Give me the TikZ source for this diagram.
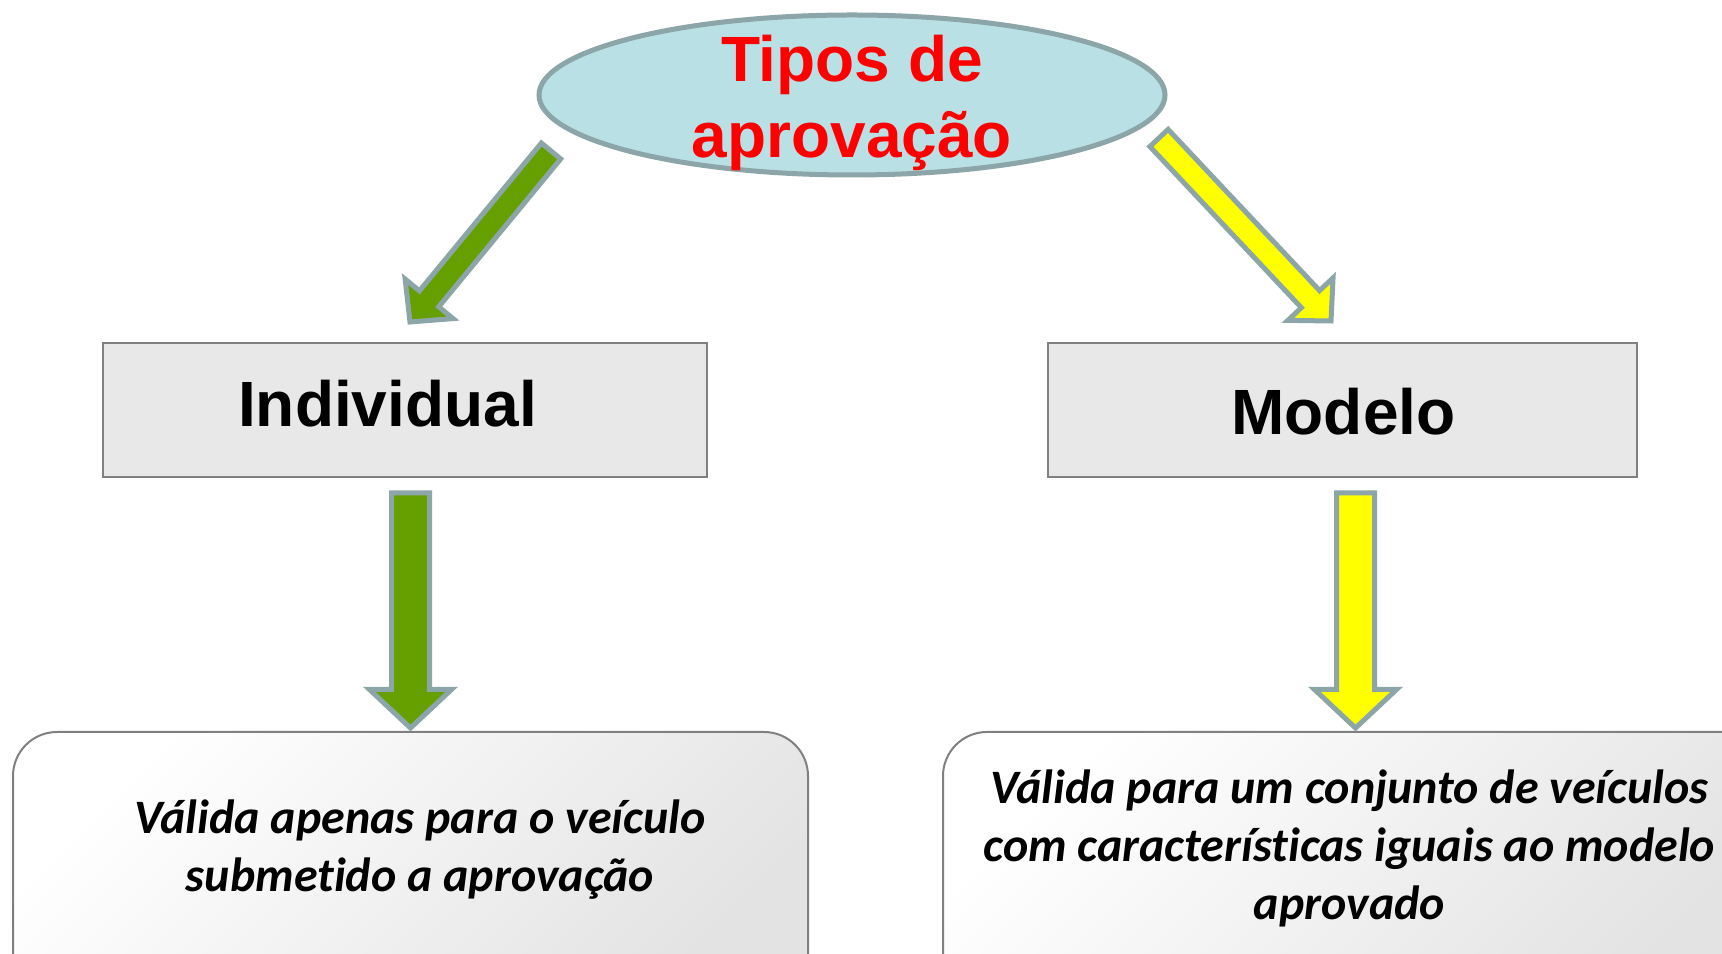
\documentclass[tikz,border=0pt]{standalone}
\usepackage{fontspec}
\setmainfont{Liberation Sans}
\newfontfamily\calibfont[Ligatures=NoCommon]{Carlito}
\usetikzlibrary{positioning,shapes,calc,arrows}

\definecolor{elipsecol}{RGB}{185,224,228}
\definecolor{bordacol}{RGB}{140,165,168}
\definecolor{verdecol}{RGB}{102,159,0}
\definecolor{amarelocol}{RGB}{255,255,0}
\definecolor{caixacol}{RGB}{232,232,232}
\definecolor{linhacol}{RGB}{128,128,128}
\definecolor{titulocol}{RGB}{255,0,0}

% block arrow: base, tip, half shaft, half head, head length, fill
\newcommand{\grossaseta}[6]{%
  \coordinate (gargalo) at ($(#2)!#5!(#1)$);
  \filldraw[seta, fill=#6] ($(#1)!#3!90:(#2)$) -- ($(gargalo)!#3!90:(#2)$)
    -- ($(gargalo)!#4!90:(#2)$) -- (#2) -- ($(gargalo)!#4!-90:(#2)$)
    -- ($(gargalo)!#3!-90:(#2)$) -- ($(#1)!#3!-90:(#2)$) -- cycle;}

\begin{document}
\begin{tikzpicture}[line join=miter,
    tipo/.style={ellipse, draw=bordacol, fill=elipsecol, line width=5bp,
      inner sep=0pt, minimum width=626bp, minimum height=160bp},
    titulo/.style={align=center, text=titulocol, anchor=base,
      font=\fontsize{64bp}{76bp}\selectfont\bfseries},
    caixa/.style={rectangle, draw=linhacol, fill=caixacol, line width=2bp,
      inner sep=0pt, minimum height=134bp},
    rotulo/.style={anchor=base, font=\fontsize{64bp}{76bp}\selectfont\bfseries},
    nota/.style={rectangle, rounded corners=44bp, draw=linhacol, line width=2bp,
      top color=white, bottom color=black!11, shading angle=45,
      inner sep=0pt, minimum height=268bp},
    texto/.style={align=center, anchor=base,
      font=\fontsize{48bp}{58bp}\selectfont\calibfont\bfseries\itshape},
    seta/.style={draw=bordacol, line width=5bp, line join=miter}]
  \pgfsetlinewidth{1bp}
  \clip (0bp,0bp) rectangle (1722bp,954bp);
  \fill[white] (0bp,0bp) rectangle (1722bp,954bp);
  %%
  % Node: tipos
  \begin{scope}
    \node[tipo] (tipos) at (852bp,859bp) {};
    \node[titulo] (tipostxt) at (852bp,796bp) {Tipos de\\aprovação};
  \end{scope}
  % Node: individual
  \begin{scope}
    \node[caixa, minimum width=604bp] (indiv) at (405bp,544bp) {};
    \node[rotulo] (indivtxt) at (387.5bp,527bp) {Individual};
  \end{scope}
  % Node: modelo
  \begin{scope}
    \node[caixa, minimum width=589bp] (modelo) at (1342.5bp,544bp) {};
    \node[rotulo] (modelotxt) at (1343.5bp,519bp) {Modelo};
  \end{scope}
  % Node: valind
  \begin{scope}
    \node[nota, minimum width=795bp] (valind) at (410.5bp,88bp) {};
    \node[texto] (valindtxt) at (420bp,62bp) {Válida apenas para o veículo\\submetido a aprovação};
  \end{scope}
  % Node: valmod
  \begin{scope}
    \node[nota, minimum width=825bp] (valmod) at (1355.5bp,88bp) {};
    \node[texto] (valmodtxt) at (1349.5bp,35bp) {Válida para um conjunto de veículos\\com características iguais ao modelo\\aprovado};
  \end{scope}
  %
  % Edge: tipos -> indiv
  \coordinate (ti1) at (551bp,803bp);
  \coordinate (ti2) at (410bp,632bp);
  \grossaseta{ti1}{ti2}{12.5bp}{31bp}{30bp}{verdecol}
  % Edge: tipos -> modelo
  \coordinate (tm1) at (1159bp,816bp);
  \coordinate (tm2) at (1331bp,633bp);
  \grossaseta{tm1}{tm2}{12.5bp}{31bp}{30bp}{amarelocol}
  % Edge: indiv -> valind
  \coordinate (iv1) at ($(indiv.south -| valind.north)+(0,-15bp)$);
  \coordinate (iv2) at ([yshift=3bp]valind.north);
  \grossaseta{iv1}{iv2}{19bp}{41bp}{38.5bp}{verdecol}
  % Edge: modelo -> valmod
  \coordinate (mv1) at ($(modelo.south -| valmod.north)+(0,-15bp)$);
  \coordinate (mv2) at ([yshift=3bp]valmod.north);
  \grossaseta{mv1}{mv2}{19bp}{41bp}{38.5bp}{amarelocol}
  %
\end{tikzpicture}
\end{document}
